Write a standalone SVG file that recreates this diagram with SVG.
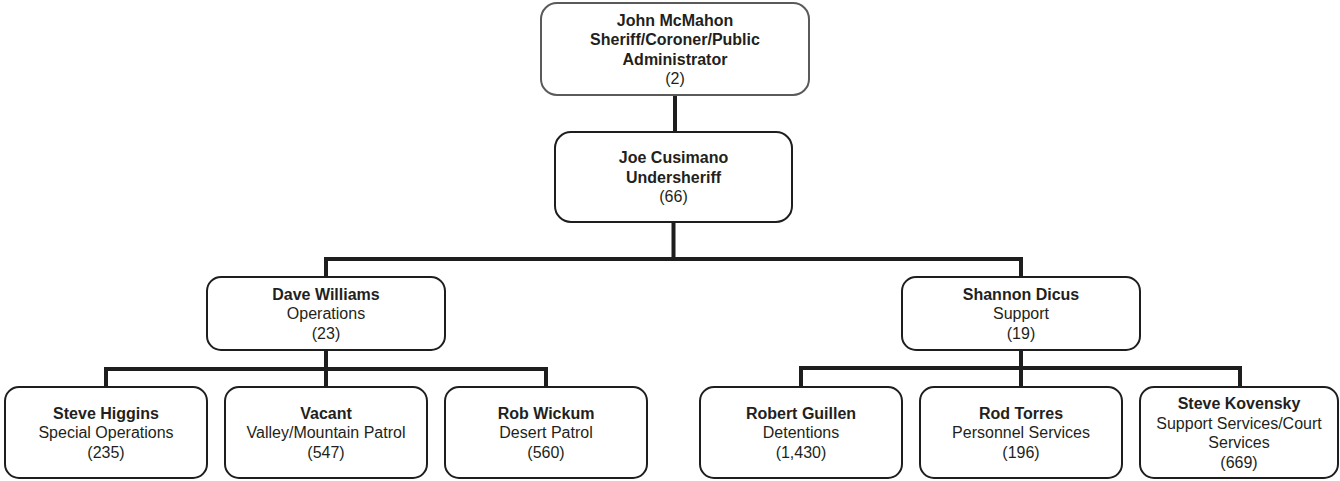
<svg xmlns="http://www.w3.org/2000/svg" width="1340" height="481" viewBox="0 0 1340 481">
<style>
.box{fill:#fff;stroke:#1e1e1e;stroke-width:2}
.top{fill:#fff;stroke:#5a5a5a;stroke-width:2}
.conn{fill:none;stroke:#1e1e1e;stroke-width:4;stroke-linecap:butt}
text{font-family:"Liberation Sans",Arial,sans-serif;font-size:16px;fill:#231f20;text-anchor:middle}
.b{font-weight:bold}
</style>
<rect width="1340" height="481" fill="#fff"/>
<g id="connectors">
<path class="conn" d="M675,95 V132"/>
<path class="conn" d="M673.5,222 V259"/>
<path class="conn" d="M326,277 V259 H1021 V277"/>
<path class="conn" d="M326,350 V369"/>
<path class="conn" d="M106,387 V369 H546 V387"/>
<path class="conn" d="M326,369 V387"/>
<path class="conn" d="M1021,350 V368"/>
<path class="conn" d="M801,387 V368 H1240 V387"/>
<path class="conn" d="M1021,368 V387"/>
</g>
<g id="n-mcmahon">
<rect class="top" x="541" y="3" width="268" height="92" rx="16"/>
<text x="675" y="25.5" class="b">John McMahon</text>
<text x="675" y="45" class="b">Sheriff/Coroner/Public</text>
<text x="675" y="64.5" class="b">Administrator</text>
<text x="675" y="84">(2)</text>
</g>
<g id="n-cusimano">
<rect class="box" x="555" y="132" width="237" height="90" rx="16"/>
<text x="673.5" y="163.2" class="b">Joe Cusimano</text>
<text x="673.5" y="182.7" class="b">Undersheriff</text>
<text x="673.5" y="202.2">(66)</text>
</g>
<g id="n-williams">
<rect class="box" x="207" y="277" width="238" height="73" rx="14"/>
<text x="326" y="299.7" class="b">Dave Williams</text>
<text x="326" y="319.2">Operations</text>
<text x="326" y="338.7">(23)</text>
</g>
<g id="n-dicus">
<rect class="box" x="902" y="277" width="238" height="73" rx="14"/>
<text x="1021" y="299.7" class="b">Shannon Dicus</text>
<text x="1021" y="319.2">Support</text>
<text x="1021" y="338.7">(19)</text>
</g>
<g id="n-higgins">
<rect class="box" x="5" y="387" width="202" height="91" rx="14"/>
<text x="106" y="418.7" class="b">Steve Higgins</text>
<text x="106" y="438.2">Special Operations</text>
<text x="106" y="457.7">(235)</text>
</g>
<g id="n-vacant">
<rect class="box" x="225" y="387" width="202" height="91" rx="14"/>
<text x="326" y="418.7" class="b">Vacant</text>
<text x="326" y="438.2">Valley/Mountain Patrol</text>
<text x="326" y="457.7">(547)</text>
</g>
<g id="n-wickum">
<rect class="box" x="445" y="387" width="202" height="91" rx="14"/>
<text x="546" y="418.7" class="b">Rob Wickum</text>
<text x="546" y="438.2">Desert Patrol</text>
<text x="546" y="457.7">(560)</text>
</g>
<g id="n-guillen">
<rect class="box" x="700" y="387" width="202" height="91" rx="14"/>
<text x="801" y="418.7" class="b">Robert Guillen</text>
<text x="801" y="438.2">Detentions</text>
<text x="801" y="457.7">(1,430)</text>
</g>
<g id="n-torres">
<rect class="box" x="920" y="387" width="202" height="91" rx="14"/>
<text x="1021" y="418.7" class="b">Rod Torres</text>
<text x="1021" y="438.2">Personnel Services</text>
<text x="1021" y="457.7">(196)</text>
</g>
<g id="n-kovensky">
<rect class="box" x="1140" y="387" width="198" height="91" rx="14"/>
<text x="1239" y="409" class="b">Steve Kovensky</text>
<text x="1239" y="428.5">Support Services/Court</text>
<text x="1239" y="448">Services</text>
<text x="1239" y="467.5">(669)</text>
</g>
</svg>
